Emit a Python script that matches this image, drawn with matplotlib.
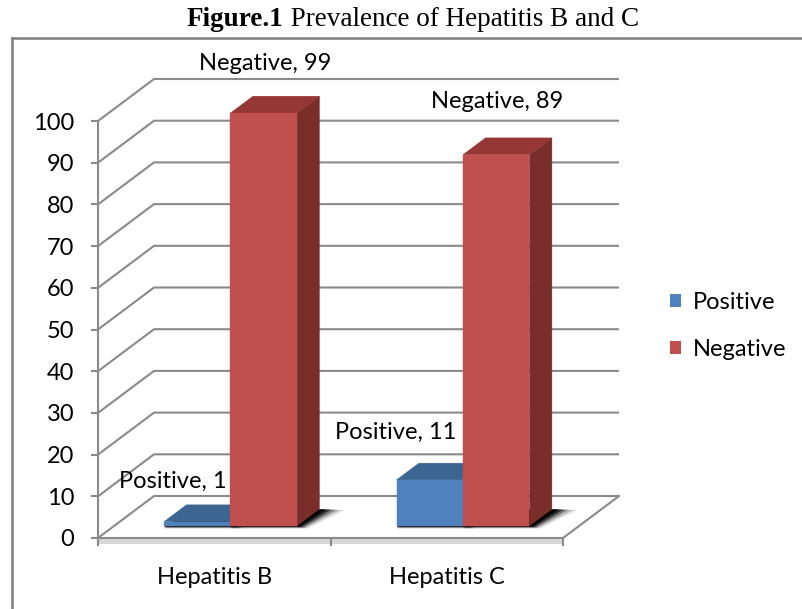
import matplotlib.pyplot as plt
from matplotlib.patches import Polygon, Patch
from matplotlib.lines import Line2D

# data
categories = ["Hepatitis B", "Hepatitis C"]
series = ["Positive", "Negative"]
positive = [1, 11]
negative = [99, 89]
yticks = list(range(0, 101, 10))

# styling
FRONT = ["#4F81BD", "#C0504D"]
TOP = ["#3C6591", "#953735"]
SIDE = ["#2F5180", "#7A2E2C"]
GRID = "#8A8A8A"
DX, DY = 0.241, 10.07       # full depth offset in data units
T0, T1 = 0.29, 0.69         # bar depth span (fraction of full depth)
W = 0.286                   # bar width in category units
FONT = "Lato"
FS = 17

# label offsets (pixels) from bar top, mid depth
label_offsets = [[(-36, 31), (-10, 41)], [(-46, 39), (-11, 44)]]

fig = plt.figure(figsize=(8.02, 6.09), dpi=100)
ax = fig.add_axes([98 / 802, 1 - 538 / 609, 465 / 802, 417 / 609])
ax.set_xlim(-0.5, len(categories) - 0.5)
ax.set_ylim(0, 100)
ax.patch.set_alpha(0)

x0, x1 = -0.5, len(categories) - 0.5

# back wall and side wall grid
for v in yticks:
    ax.plot([x0, x0 + DX, x1 + DX], [v, v + DY, v + DY], color=GRID, lw=1.5,
            clip_on=False, zorder=1, solid_capstyle="butt")
# floor right edge
ax.plot([x1, x1 + DX], [0, DY], color=GRID, lw=1.5, clip_on=False, zorder=1)
# floor front thickness
ax.plot([x0, x1], [-0.6, -0.6], color="#D6D6D6", lw=3.5, clip_on=False, zorder=1,
        solid_capstyle="butt")


def bar3d(xl, xr, v, k):
    fx0, fy0 = T0 * DX, T0 * DY
    bx0, by0 = T1 * DX, T1 * DY
    # soft shadow on the floor
    for s, a in ((0.11, 0.12), (0.09, 0.2), (0.07, 0.35), (0.05, 0.6), (0.03, 0.9)):
        sh = [(xl + fx0, fy0 - s * 6), (xr + fx0 + s * 0.4, fy0 - s * 6),
              (xr + bx0 + s, by0 - s * 2), (xl + bx0 + s, by0 - s * 2)]
        ax.add_patch(Polygon(sh, closed=True, facecolor="black", alpha=a,
                             edgecolor="none", clip_on=False, zorder=2))
    side = [(xr + fx0, fy0), (xr + bx0, by0), (xr + bx0, v + by0), (xr + fx0, v + fy0)]
    top = [(xl + fx0, v + fy0), (xr + fx0, v + fy0), (xr + bx0, v + by0), (xl + bx0, v + by0)]
    front = [(xl + fx0, fy0), (xr + fx0, fy0), (xr + fx0, v + fy0), (xl + fx0, v + fy0)]
    for poly, col in ((side, SIDE[k]), (top, TOP[k]), (front, FRONT[k])):
        ax.add_patch(Polygon(poly, closed=True, facecolor=col, edgecolor=col,
                             lw=0.3, clip_on=False, zorder=3))


values = [positive, negative]
for i in range(len(categories)):
    for k in range(len(series)):
        xl = i - W + k * W
        bar3d(xl, xl + W, values[k][i], k)

for i in range(len(categories)):
    for k in range(len(series)):
        v = values[k][i]
        xc = i - W + k * W + W / 2
        ax.annotate(f"{series[k]}, {v}", (xc + 0.5 * DX, v + 0.5 * DY),
                    xytext=label_offsets[i][k], textcoords="offset pixels",
                    ha="center", va="center", fontsize=FS, family=FONT,
                    color="black", zorder=5, annotation_clip=False)

# axes
for s in ("top", "right"):
    ax.spines[s].set_visible(False)
ax.spines["left"].set_color(GRID)
ax.spines["bottom"].set_color(GRID)
ax.spines["left"].set_linewidth(1.5)
ax.spines["bottom"].set_linewidth(1.5)
ax.set_yticks(yticks)
ax.set_yticklabels([str(t) for t in yticks], family=FONT, fontsize=FS)
ax.tick_params(axis="y", length=5, width=1.5, color=GRID, pad=12)
ax.set_xticks([x0 + j for j in range(len(categories) + 1)])
ax.set_xticklabels([])
ax.tick_params(axis="x", which="major", length=6, width=1.5, color=GRID)
ax.set_xticks(range(len(categories)), minor=True)
ax.set_xticklabels(categories, minor=True, family=FONT, fontsize=FS)
ax.tick_params(axis="x", which="minor", length=0, pad=21)

# legend
handles = [Patch(facecolor=FRONT[k], edgecolor="none", label=series[k]) for k in range(len(series))]
fig.legend(handles=handles, loc="center left", bbox_to_anchor=(649 / 802, 1 - 326 / 609),
           frameon=False, prop={"family": FONT, "size": FS}, handlelength=0.45,
           handleheight=0.45, handletextpad=0.5, labelspacing=1.1)

# outer frame
fig.add_artist(Line2D([12 / 802, 1], [1 - 38 / 609] * 2, color="#7F7F7F", lw=1.8))
fig.add_artist(Line2D([12 / 802] * 2, [0, 1 - 38 / 609], color="#7F7F7F", lw=1.8))

# title
t1 = fig.text(187 / 802, 1 - 20 / 609, "Figure.1", family="Liberation Serif",
              fontweight="bold", fontsize=19.5, ha="left", va="center")
ax.annotate(" Prevalence of Hepatitis B and C", xy=(1, 0.5), xycoords=t1,
            ha="left", va="center", family="Liberation Serif", fontsize=19.5,
            annotation_clip=False)

fig.savefig("out.png", dpi=100)
